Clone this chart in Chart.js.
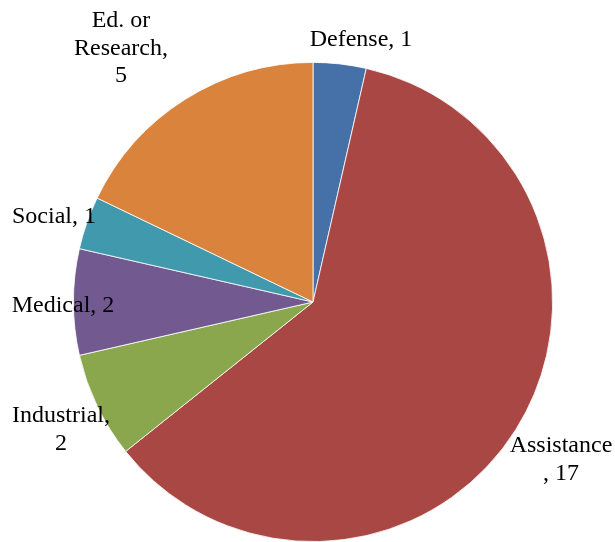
<!DOCTYPE html>
<html>
<head>
<meta charset="utf-8">
<script src="https://cdn.jsdelivr.net/npm/chart.js@4"></script>
<style>
  html, body { margin: 0; padding: 0; background: #fff; }
  #wrap { width: 615px; height: 542px; }
</style>
</head>
<body>
<div id="wrap"><canvas id="pieChart" width="615" height="542"></canvas></div>
<script>
// data, clockwise from 12 o'clock
const categories = ["Defense", "Assistance", "Industrial", "Medical", "Social", "Ed. or Research"];
const counts = [1, 17, 2, 2, 1, 5];
const sliceColors = ["#4570a8", "#a94744", "#8ba74e", "#725a90", "#4199ae", "#da833c"];

// how each label is broken into lines in the picture
const labelLines = [
  ["Defense, 1"],
  ["Assistance", ", 17"],
  ["Industrial,", "2"],
  ["Medical, 2"],
  ["Social, 1"],
  ["Ed. or", "Research,", "5"]
];
// centre x and first baseline of each label
const labelPlace = [
  [361, 46],
  [561, 452],
  [61, 422],
  [63, 312],
  [54, 223],
  [121, 27]
];

const outsideLabels = {
  id: "outsideLabels",
  afterDraw(chart) {
    const ctx = chart.ctx;
    ctx.save();
    ctx.font = '24px "Liberation Serif", "Times New Roman", serif';
    ctx.fillStyle = "#000";
    ctx.textAlign = "center";
    ctx.textBaseline = "alphabetic";
    labelLines.forEach((lines, i) => {
      const [x, y] = labelPlace[i];
      lines.forEach((t, j) => ctx.fillText(t, x, y + j * 27.5));
    });
    ctx.restore();
  }
};

new Chart(document.getElementById("pieChart"), {
  type: "pie",
  data: {
    labels: categories,
    datasets: [{
      data: counts,
      backgroundColor: sliceColors,
      borderColor: "#ffffff",
      borderWidth: 0.8
    }]
  },
  options: {
    responsive: false,
    animation: false,
    layout: { padding: { left: 72, right: 61, top: 62, bottom: 0 } },
    plugins: {
      legend: { display: false },
      tooltip: { enabled: false }
    }
  },
  plugins: [outsideLabels]
});
</script>
</body>
</html>
